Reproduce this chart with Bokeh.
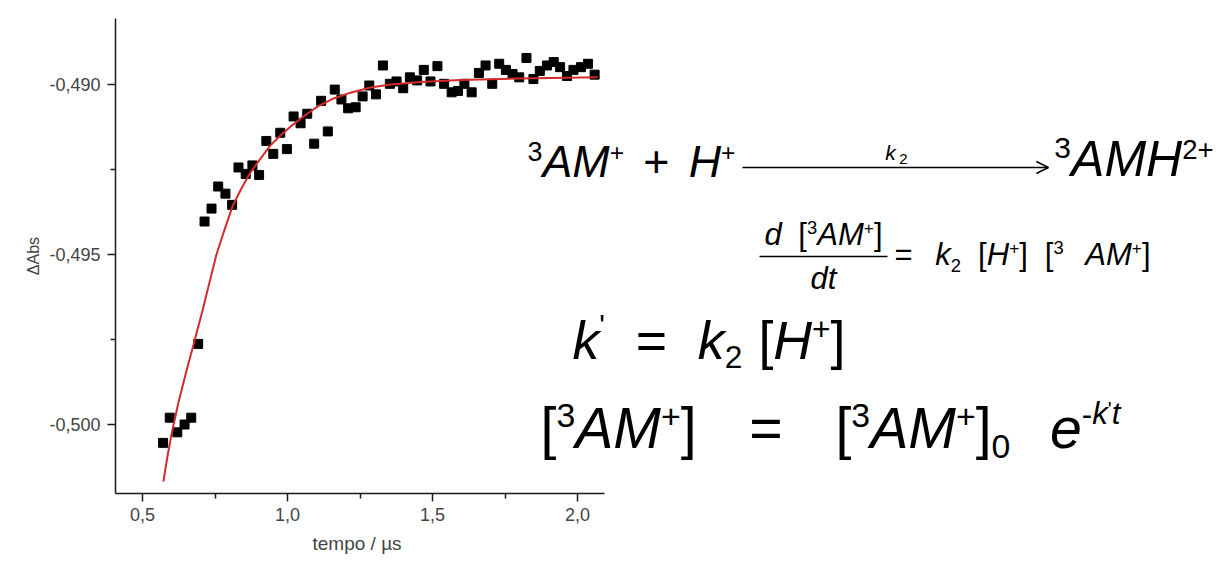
from bokeh.plotting import figure
from bokeh.models import Range1d, FixedTicker, CustomJSTickFormatter, Title
from bokeh.embed import file_html
from bokeh.resources import INLINE
from bokeh.core.properties import value

# ---------------- data ----------------
time_us = [0.571, 0.594, 0.620, 0.645, 0.668, 0.692, 0.714, 0.738, 0.761, 0.786,
           0.809, 0.831, 0.856, 0.879, 0.902, 0.927, 0.951, 0.975, 0.998, 1.021,
           1.045, 1.068, 1.092, 1.116, 1.139, 1.163, 1.186, 1.209, 1.235, 1.259,
           1.282, 1.305, 1.329, 1.353, 1.376, 1.399, 1.422, 1.447, 1.470, 1.493,
           1.517, 1.540, 1.566, 1.588, 1.610, 1.635, 1.660, 1.683, 1.706, 1.730,
           1.753, 1.776, 1.799, 1.824, 1.848, 1.870, 1.895, 1.918, 1.940, 1.964,
           1.986, 2.012, 2.036, 2.059]
delta_abs = [-0.50054, -0.49980, -0.50023, -0.50000, -0.49980, -0.49763, -0.49403, -0.49365, -0.49300, -0.49321,
             -0.49354, -0.49244, -0.49263, -0.49238, -0.49266, -0.49166, -0.49204, -0.49142, -0.49190, -0.49094,
             -0.49114, -0.49086, -0.49174, -0.49048, -0.49138, -0.49015, -0.49044, -0.49070, -0.49067, -0.49035,
             -0.49003, -0.49029, -0.48944, -0.48998, -0.48991, -0.49011, -0.48979, -0.48988, -0.48957, -0.48991,
             -0.48946, -0.48998, -0.49023, -0.49019, -0.48998, -0.49023, -0.48966, -0.48944, -0.48998, -0.48939,
             -0.48957, -0.48969, -0.48979, -0.48922, -0.48984, -0.48960, -0.48944, -0.48934, -0.48949, -0.48975,
             -0.48957, -0.48949, -0.48939, -0.48971]

fit_time = [0.572, 0.586, 0.600, 0.624, 0.652, 0.676, 0.707, 0.731, 0.755, 0.783,
            0.810, 0.841, 0.872, 0.907, 0.941, 0.976, 1.010, 1.055, 1.103, 1.159,
            1.217, 1.286, 1.355, 1.459, 1.597, 1.803, 2.070]
fit_abs = [-0.50168, -0.50094, -0.50029, -0.49935, -0.49841, -0.49765, -0.49665, -0.49582, -0.49500, -0.49427,
           -0.49359, -0.49306, -0.49259, -0.49218, -0.49179, -0.49150, -0.49124, -0.49094, -0.49065, -0.49041,
           -0.49024, -0.49009, -0.49000, -0.48993, -0.48987, -0.48982, -0.48979]

x_ticks = [0.5, 1.0, 1.5, 2.0]
x_minor = [0.75, 1.25, 1.75]
y_ticks = [-0.500, -0.495, -0.490]
y_minor = [-0.4975, -0.4925]

x_title = "tempo / µs"
y_title = "ΔAbs"

FONT = "Liberation Sans"
AX = "#1a1a1a"
LBL = "#444444"

# ---------------- geometry (page pixels) ----------------
W, H = 1219, 564
FL, FT, FB = 115, 18, 493          # frame left / top / bottom
AX_RIGHT = 604                      # end of the x axis line
PX_PER_US = 290.0
X05 = 142.0                         # pixel of t = 0.5
PX_PER_ABS = 34000.0
Y490 = 84.0                         # pixel of -0.490

x0 = 0.5 - (X05 - FL) / PX_PER_US
x1 = 0.5 + (W - X05) / PX_PER_US
xb = 0.5 + (AX_RIGHT - X05) / PX_PER_US
y_top = -0.490 + (Y490 - FT) / PX_PER_ABS
y_bot = -0.490 - (FB - Y490) / PX_PER_ABS

p = figure(width=W, height=H, output_backend="svg", toolbar_location=None,
           x_range=Range1d(x0, x1), y_range=Range1d(y_bot, y_top),
           min_border_left=FL, min_border_top=FT, min_border_right=0,
           min_border_bottom=H - FB)
p.outline_line_color = None
p.xgrid.visible = False
p.ygrid.visible = False
p.background_fill_color = "white"
p.border_fill_color = "white"
p.extra_x_ranges = {"px": Range1d(FL, W)}
p.extra_y_ranges = {"px": Range1d(FB, FT)}

p.xaxis.ticker = FixedTicker(ticks=x_ticks, minor_ticks=x_minor)
p.yaxis.ticker = FixedTicker(ticks=y_ticks, minor_ticks=y_minor)
p.xaxis.formatter = CustomJSTickFormatter(code="return tick.toFixed(1).replace('.', ',');")
p.yaxis.formatter = CustomJSTickFormatter(code="return tick.toFixed(3).replace('.', ',');")
p.xaxis.bounds = (x0, xb)

for ax in (p.xaxis[0], p.yaxis[0]):
    ax.axis_line_color = AX
    ax.axis_line_width = 1.5
    ax.major_tick_in = 0
    ax.major_tick_out = 8
    ax.minor_tick_in = 0
    ax.minor_tick_out = 5
    ax.major_tick_line_color = AX
    ax.minor_tick_line_color = AX
    ax.major_tick_line_width = 1.5
    ax.minor_tick_line_width = 1.5
    ax.major_label_text_font = FONT
    ax.major_label_text_font_size = "18px"
    ax.major_label_text_color = LBL
    ax.axis_label_text_font = FONT
    ax.axis_label_text_font_style = "normal"
    ax.axis_label_text_color = LBL

p.yaxis.axis_label = y_title
p.yaxis.axis_label_text_font_size = "16px"
p.xaxis.major_label_standoff = 6
p.yaxis.major_label_standoff = 7
p.yaxis.axis_label_standoff = 4

# x title centred under the (bounded) x axis
xt = Title(text=x_title, align="left", offset=197, text_font=FONT, text_font_size="19px",
           text_font_style="normal", text_color=LBL, standoff=14)
p.add_layout(xt, "below")

p.scatter(time_us, delta_abs, marker="square", size=9, color="black")
p.line(fit_time, fit_abs, line_color="#d42a2a", line_width=2)

# ---------------- equations (placed in page pixels through the "px" ranges) ----------------
ADV = {"A": 667, "M": 833, "H": 722, "d": 556, "t": 278, "k": 500, "e": 556,
       "[": 278, "]": 278, "+": 584, "=": 584, "-": 333, "'": 191, " ": 278,
       "0": 556, "2": 556, "3": 556}
BASE_FIX = 0.39   # rendered baseline sits this fraction of the font size below the anchor
B = ("|",)        # a break where the run may be spaced out


def put(x, y, s, size, italic=True, align="center"):
    p.text(x=[x], y=[y - BASE_FIX * size], text=[s], text_font=value(FONT),
           text_font_size=f"{size:.1f}px", text_font_style="italic" if italic else "normal",
           text_baseline="alphabetic", text_align=align, text_color="black",
           x_range_name="px", y_range_name="px")


def rule(xs, ys, w=1.5):
    p.line(xs, ys, line_color="black", line_width=w, x_range_name="px", y_range_name="px")


def nat(s, size):
    return sum(ADV[ch] for ch in s) * size / 1000.0


def width(tokens, grow):
    return sum((t[1] if t[0] == "gap" else nat(t[1], t[2])) * grow for t in tokens if t[0] in ("gap", "m", "s"))


def run(x_start, base, tokens, grow, x_end=None):
    """tokens: ("m"|"s", text, size, italic, dy), ("gap", px) or B.
    Glyph groups stay compact; spare room up to x_end is shared out at the breaks."""
    total = width(tokens, grow)
    nb = sum(1 for t in tokens if t[0] == "|")
    extra = 0.0
    if x_end is not None and nb:
        extra = max(0.0, (x_end - x_start - total) / nb)
    x = x_start
    for t in tokens:
        if t[0] == "|":
            x += extra
        elif t[0] == "gap":
            x += t[1] * grow
        else:
            _, s, size, italic, dy = t
            w = nat(s, size) * grow
            put(x + w / 2, base + dy * grow, s, size * grow, italic)
            x += w
    return x


# line 1:  3AM+ + H+ --k2--> 3AMH2+
b1 = 178
G1 = 1.12
run(527, b1, [("s", "3", 24, False, -15), ("m", "AM", 40, True, 0), ("s", "+", 22, False, -15), B,
              ("gap", 8), ("m", "+", 40, False, 0), ("gap", 8), B, ("m", "H", 40, True, 0),
              ("s", "+", 22, False, -15)], G1, 735)
prod = [("s", "3", 24, False, -15), ("m", "AMH", 40, True, 0), ("s", "2+", 22, False, -15)]
G1b = 1.25
p_start = 1213 - width(prod, G1b)
a0, a1 = 742, p_start - 6
ay = b1 - 11
rule([a0, a1], [ay, ay])
rule([a1 - 12, a1, a1 - 12], [ay - 6, ay, ay + 6])
mid = (a0 + a1) / 2
put(mid - 5, ay - 7, "k", 21, True)
put(mid + 8, ay - 3, "2", 15, False)
run(p_start, b1, prod, G1b)

# line 2: d[3AM+]/dt = k2[H+][3 AM+]
G2 = 1.15
num_l = 764
num_r = run(num_l, 246, [("m", "d", 27, True, 0), B, ("m", "[", 27, False, 0), ("s", "3", 16, False, -10),
                         ("m", "AM", 27, True, 0), ("s", "+", 15, False, -10), ("m", "]", 27, False, 0)],
            G2, 882)
rule([num_l - 5, num_r + 5], [256, 256])
put((num_l + num_r) / 2, 290, "dt", 27 * G2, True)
run(894, 266, [("m", "=", 27, False, 0), B, ("gap", 5), ("m", "k", 27, True, 0), ("s", "2", 16, False, 5), B,
               ("m", "[", 27, False, 0), ("m", "H", 27, True, 0), ("s", "+", 15, False, -10),
               ("m", "]", 27, False, 0), B, ("m", "[", 27, False, 0), ("s", "3", 16, False, -10),
               ("gap", 4), B, ("m", "AM", 27, True, 0), ("s", "+", 15, False, -10), ("m", "]", 27, False, 0)],
    G2, 1150)

# line 3: k' = k2[H+]
run(572, 360, [("m", "k", 44, True, 0), ("s", "'", 24, False, -20), B, ("gap", 12), ("m", "=", 44, False, 0),
               ("gap", 12), B, ("m", "k", 44, True, 0), ("s", "2", 26, False, 7), B, ("m", "[", 44, False, 0),
               ("m", "H", 44, True, 0), ("s", "+", 26, False, -16), ("m", "]", 44, False, 0)], 1.22, 845)

# line 4: [3AM+] = [3AM+]0 e^(-k't)
run(540, 450, [("m", "[", 44, False, 0), ("s", "3", 26, False, -17), ("m", "AM", 44, True, 0),
               ("s", "+", 26, False, -16), ("m", "]", 44, False, 0), B, ("gap", 14), ("m", "=", 44, False, 0),
               ("gap", 14), B, ("m", "[", 44, False, 0), ("s", "3", 26, False, -17), ("m", "AM", 44, True, 0),
               ("s", "+", 26, False, -16), ("m", "]", 44, False, 0), ("s", "0", 26, False, 7), B,
               ("gap", 4), ("m", "e", 44, True, 0), ("s", "-", 24, False, -19), ("s", "k", 24, True, -19),
               ("s", "'", 16, False, -26), ("s", "t", 24, True, -19)], 1.3, 1120)

open("out.html", "w").write(file_html(p, INLINE))
